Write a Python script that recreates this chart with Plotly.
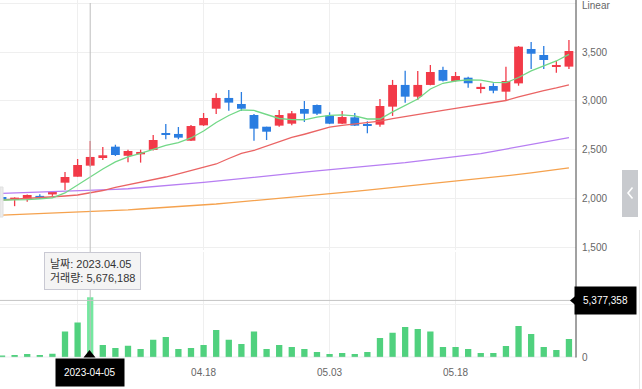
import plotly.graph_objects as go

# ---------------- data ----------------
dates = ["2023-03-27", "2023-03-28", "2023-03-29", "2023-03-30", "2023-03-31",
         "2023-04-03", "2023-04-04", "2023-04-05", "2023-04-06", "2023-04-07",
         "2023-04-10", "2023-04-11", "2023-04-12", "2023-04-13", "2023-04-14",
         "2023-04-17", "2023-04-18", "2023-04-19", "2023-04-20", "2023-04-21",
         "2023-04-24", "2023-04-25", "2023-04-26", "2023-04-27", "2023-04-28",
         "2023-05-02", "2023-05-03", "2023-05-04", "2023-05-08", "2023-05-09",
         "2023-05-10", "2023-05-11", "2023-05-12", "2023-05-15", "2023-05-16",
         "2023-05-17", "2023-05-18", "2023-05-19", "2023-05-22", "2023-05-23",
         "2023-05-24", "2023-05-25", "2023-05-26", "2023-05-30", "2023-05-31",
         "2023-06-01"]

open_ = [2019, 1988, 1998, 2030, 2045, 2165, 2226, 2339, 2425, 2533,
         2440, 2455, 2500, 2673, 2663, 2594, 2751, 2921, 3031, 2969,
         2857, 2737, 2748, 2768, 2918, 2959, 2850, 2768, 2833, 2760,
         2758, 2942, 3164, 3044, 3164, 3317, 3204, 3238, 3130, 3153,
         3095, 3180, 3531, 3470, 3351, 3351]
close = [1988, 2012, 2039, 2003, 2070, 2223, 2346, 2428, 2445, 2448,
         2489, 2479, 2601, 2656, 2625, 2744, 2826, 3031, 2983, 2921,
         2717, 2686, 2857, 2874, 2870, 2870, 2768, 2836, 2748, 2750,
         2949, 3164, 3044, 3164, 3296, 3207, 3255, 3181, 3143, 3105,
         3204, 3555, 3483, 3419, 3368, 3511]
high = [2025, 2015, 2045, 2047, 2080, 2274, 2407, 2591, 2530, 2553,
        2502, 2502, 2652, 2765, 2734, 2755, 2877, 3079, 3112, 3092,
        2867, 2737, 2908, 2898, 3000, 2965, 2884, 2898, 2877, 2793,
        3020, 3215, 3310, 3307, 3368, 3350, 3296, 3248, 3181, 3181,
        3350, 3562, 3603, 3562, 3409, 3623]
low = [1960, 1925, 1970, 1998, 2030, 2090, 2226, 2329, 2397, 2438,
       2375, 2370, 2495, 2609, 2609, 2590, 2745, 2867, 2901, 2898,
       2594, 2601, 2737, 2752, 2785, 2857, 2764, 2764, 2745, 2670,
       2737, 2847, 2983, 3010, 3160, 3200, 3197, 3136, 3079, 3079,
       3010, 3156, 3327, 3327, 3289, 3327]

volume = [125000, 220000, 315000, 220000, 346000, 2430000, 3280000, 5676188, 1170000, 882000,
          1100000, 788000, 1670000, 1920000, 788000, 882000, 1170000, 2580000, 1670000, 1260000,
          2430000, 788000, 1170000, 976000, 788000, 504000, 315000, 409000, 315000, 504000,
          1830000, 2330000, 2870000, 2680000, 2430000, 976000, 976000, 788000, 409000, 409000,
          1070000, 2960000, 2210000, 976000, 693000, 1730000]

ma5 = [1988, 1988, 1992, 2000, 2009, 2060, 2142, 2220, 2305, 2377,
       2428, 2464, 2506, 2547, 2574, 2622, 2693, 2780, 2852, 2908,
       2903, 2862, 2821, 2809, 2808, 2836, 2852, 2857, 2847, 2816,
       2816, 2888, 2954, 3020, 3123, 3181, 3204, 3215, 3213, 3191,
       3187, 3240, 3307, 3358, 3409, 3477]
ma20 = [1988, 1995, 2004, 2009, 2015, 2029, 2039, 2060, 2085, 2116,
        2142, 2167, 2193, 2223, 2254, 2290, 2320, 2356, 2412, 2465,
        2494, 2540, 2586, 2627, 2660, 2695, 2732, 2750, 2763, 2777,
        2795, 2819, 2842, 2863, 2884, 2905, 2925, 2946, 2966, 2985,
        3005, 3041, 3077, 3107, 3133, 3164]
ma60 = [2056, 2060, 2063, 2066, 2069, 2073, 2078, 2084, 2090, 2096,
        2103, 2113, 2124, 2135, 2146, 2157, 2169, 2181, 2195, 2207,
        2220, 2233, 2246, 2259, 2272, 2285, 2296, 2308, 2320, 2333,
        2344, 2356, 2369, 2385, 2400, 2416, 2432, 2447, 2462, 2485,
        2508, 2532, 2555, 2579, 2602, 2626]
ma120 = [1833, 1838, 1843, 1848, 1854, 1858, 1863, 1868, 1873, 1879,
         1887, 1896, 1904, 1911, 1919, 1926, 1935, 1947, 1959, 1970,
         1982, 1993, 2005, 2017, 2028, 2040, 2053, 2065, 2077, 2089,
         2102, 2114, 2126, 2140, 2155, 2168, 2181, 2196, 2209, 2221,
         2235, 2249, 2265, 2283, 2300, 2317]

price_ticks = [1500, 2000, 2500, 3000, 3500, 4000]
price_tick_text = ["1,500", "2,000", "2,500", "3,000", "3,500", ""]
scale_label = "Linear"
date_tick_idx = [6, 16, 26, 36]
date_tick_text = ["", "04.18", "05.03", "05.18"]

sel_idx = 7                      # crosshair date
sel_label = "2023-04-05"
cross_volume = 5377358
cross_volume_text = "5,377,358"
tooltip_text = "날짜: 2023.04.05<br>거래량: 5,676,188"

# ---------------- styling ----------------
W, H = 642, 389
UP = "#f23a48"
DOWN = "#2a7de1"
VOL = "#50d17e"
VOL_SEL = "#74e8a0"
GRID = "#efefef"
FONT = "Liberation Sans, Arial, Noto Sans CJK KR, sans-serif"
TICK_FONT = dict(size=10, color="#666666", family=FONT)


def px(x):
    return x / W


def py(y):
    return 1 - y / H


XD = 576 / W

fig = go.Figure()

# candle bodies
body_base = [min(o, c) for o, c in zip(open_, close)]
body_h = [max(abs(c - o), 14) for o, c in zip(open_, close)]
colors = [UP if c >= o else DOWN for o, c in zip(open_, close)]
fig.add_trace(go.Bar(x=dates, y=body_h, base=body_base, width=0.7,
                     marker=dict(color=colors, line=dict(width=0)),
                     xaxis="x", yaxis="y", hoverinfo="skip"))

# wicks
for col, up in ((UP, True), (DOWN, False)):
    wx, wy = [], []
    for d, o, c, h, l in zip(dates, open_, close, high, low):
        if (c >= o) == up:
            wx += [d, d, None]
            wy += [l, h, None]
    fig.add_trace(go.Scatter(x=wx, y=wy, mode="lines", line=dict(color=col, width=1.3),
                             connectgaps=False, xaxis="x", yaxis="y", hoverinfo="skip"))

# moving averages
for arr, col in ((ma120, "#f5a24e"), (ma60, "#b77ef2"), (ma20, "#ea6464"), (ma5, "#72d887")):
    fig.add_trace(go.Scatter(x=dates, y=arr, mode="lines", line=dict(color=col, width=1.3),
                             xaxis="x", yaxis="y", hoverinfo="skip"))

# volume
vcolors = [VOL_SEL if i == sel_idx else VOL for i in range(len(dates))]
fig.add_trace(go.Bar(x=dates, y=volume, width=0.5, marker=dict(color=vcolors, line=dict(width=0)),
                     xaxis="x", yaxis="y2", hoverinfo="skip"))

shapes = [
    # volume zero line
    dict(type="line", xref="paper", yref="y2", x0=0, x1=XD, y0=0, y1=0,
         line=dict(color="#cfd3dc", width=1)),
    # right axis line
    dict(type="line", xref="paper", yref="paper", x0=XD, x1=XD, y0=py(357.5), y1=1,
         line=dict(color="#444444", width=1)),
    # crosshair
    dict(type="line", xref="x", yref="paper", x0=dates[sel_idx], x1=dates[sel_idx],
         y0=py(357.3), y1=py(3), line=dict(color="#bdbdbd", width=1)),
    dict(type="line", xref="paper", yref="y2", x0=0, x1=XD, y0=cross_volume, y1=cross_volume,
         line=dict(color="#c4c4c4", width=1)),
    # date label arrow
    dict(type="path", xref="paper", yref="paper",
         path=f"M {px(83.5)} {py(357.5)} L {px(89.5)} {py(350)} L {px(95.5)} {py(357.5)} Z",
         fillcolor="black", line=dict(width=0)),
    # volume label arrow
    dict(type="path", xref="paper", yref="paper",
         path=f"M {px(576.5)} {py(295)} L {px(570)} {py(300.5)} L {px(576.5)} {py(306)} Z",
         fillcolor="black", line=dict(width=0)),
    # right side button
    dict(type="rect", xref="paper", yref="paper", x0=px(622), x1=px(638), y0=py(217), y1=py(170),
         fillcolor="#c8cace", line=dict(width=0)),
    dict(type="path", xref="paper", yref="paper",
         path=f"M {px(632.5)} {py(187.5)} L {px(628)} {py(193)} L {px(632.5)} {py(198.5)}",
         line=dict(color="white", width=1.6)),
    # left faint box
    dict(type="rect", xref="paper", yref="paper", x0=0, x1=px(3), y0=py(217), y1=py(187),
         fillcolor="#ececec", line=dict(color="#e0e0e0", width=1)),
    # faint right border
    dict(type="line", xref="paper", yref="paper", x0=px(639.5), x1=px(639.5), y0=0, y1=py(230),
         line=dict(color="#e6e6e6", width=1)),
]

annotations = [
    dict(xref="paper", yref="paper", x=px(581), y=1, text=scale_label, showarrow=False,
         font=dict(color="#666666", size=10, family=FONT), borderpad=0,
         xanchor="left", yanchor="top", yshift=1),
    dict(xref="x", yref="paper", x=dates[sel_idx], y=py(372), text=sel_label, showarrow=False,
         font=dict(color="white", size=10, family=FONT), bgcolor="black", borderpad=8,
         xanchor="center", yanchor="middle"),
    dict(xref="paper", yref="paper", x=px(605), y=py(300.3), text=cross_volume_text, showarrow=False,
         font=dict(color="white", size=10, family=FONT), bgcolor="black", borderpad=8,
         xanchor="center", yanchor="middle"),
    dict(xref="paper", yref="paper", x=px(44), y=py(252), text=tooltip_text, showarrow=False,
         font=dict(color="#333333", size=11, family=FONT), bgcolor="#f4f4f4",
         bordercolor="#c9c9d3", borderwidth=1, borderpad=5, align="left",
         xanchor="left", yanchor="top"),
]

fig.update_layout(
    width=W, height=H, margin=dict(l=0, r=0, t=0, b=0, pad=0, autoexpand=False),
    paper_bgcolor="white", plot_bgcolor="white",
    showlegend=False, barmode="overlay", hovermode=False,
    font=dict(family=FONT, size=10, color="#666666"),
    xaxis=dict(type="category", domain=[0, XD], range=[-0.16, 45.56], anchor="y2",
               tickvals=[dates[i] for i in date_tick_idx], ticktext=date_tick_text,
               showgrid=True, gridcolor=GRID, gridwidth=1, ticks="", showline=False,
               zeroline=False, tickfont=TICK_FONT, ticklabelstandoff=8, automargin=False),
    yaxis=dict(domain=[py(250), 1], range=[1477, 4032], side="right", anchor="x",
               tickvals=price_ticks, ticktext=price_tick_text, showgrid=True, gridcolor=GRID,
               ticks="", showline=False, zeroline=False, ticklabeloverflow="allow",
               tickfont=TICK_FONT, ticklabelstandoff=5, automargin=False),
    yaxis2=dict(domain=[py(357.3), py(251.5)], range=[0, 1.0e7], side="right", anchor="x",
                tickvals=[0, 5e6, 1e7], ticktext=["0", "", ""], showgrid=True, gridcolor=GRID,
                ticks="", showline=False, zeroline=False, ticklabeloverflow="allow",
                tickfont=TICK_FONT, ticklabelstandoff=5, automargin=False),
    shapes=shapes, annotations=annotations,
)

fig.write_html("out.html", config={"displayModeBar": False})

# remove the default page margin so the figure sits at the window origin
with open("out.html", "r", encoding="utf-8") as f:
    html = f.read()
html = html.replace("<head>", "<head><style>html,body{margin:0;padding:0;overflow:hidden;}</style>", 1)
with open("out.html", "w", encoding="utf-8") as f:
    f.write(html)
